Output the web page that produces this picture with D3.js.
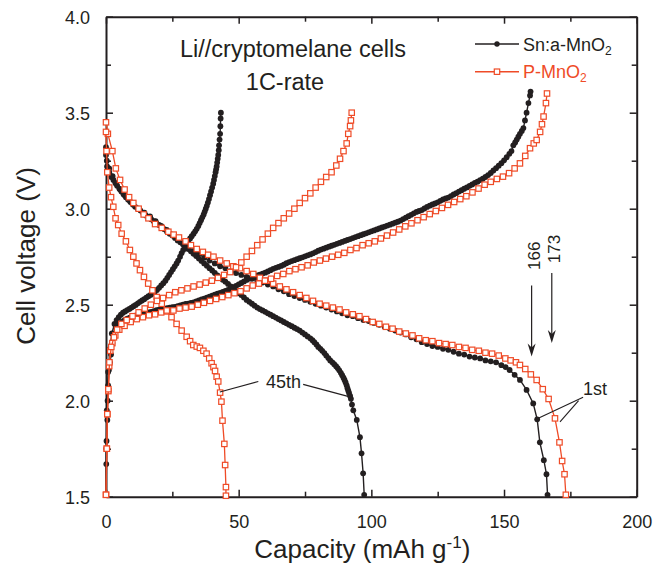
<!DOCTYPE html>
<html>
<head>
<meta charset="utf-8">
<script src="https://cdn.jsdelivr.net/npm/d3@7/dist/d3.min.js"></script>
<style>
  html, body { margin: 0; padding: 0; background: #fff; }
  svg text { font-family: "Liberation Sans", Arial, Helvetica, sans-serif; fill: #231f20; }
</style>
</head>
<body>
<svg id="chart" width="653" height="566"></svg>
<script>
// Tick values (every 25 mAh/g and every 0.25 V; labels on the major ones)
const xTickValues = [0, 25, 50, 75, 100, 125, 150, 175, 200];
const xTickLabels = [0, 50, 100, 150, 200];
const yTickValues = [1.5, 1.75, 2.0, 2.25, 2.5, 2.75, 3.0, 3.25, 3.5, 3.75, 4.0];
const yTickLabels = [1.5, 2.0, 2.5, 3.0, 3.5, 4.0];

// Sn:a-MnO2, 1st cycle discharge  [capacity mAh/g, voltage V]
const snDischarge1 = [
  [0,3.32],[0.3,3.25],[1.2,3.21],[2.5,3.17],[3.8,3.13],[5.3,3.10],[7,3.07],[8.7,3.045],[10.3,3.02],
  [12.3,3.00],[14.5,2.98],[16.6,2.96],[18.7,2.935],[20.8,2.91],[22.9,2.89],[25,2.865],[27,2.845],
  [29,2.825],[31,2.80],[33,2.78],[35,2.765],[37,2.745],[39,2.73],[41,2.715],[43,2.70],[45,2.69],
  [47,2.675],[49,2.665],[51,2.655],[53,2.645],[55,2.635],[57,2.625],[59,2.615],[61,2.605],[63,2.595],
  [65,2.58],[67,2.57],[69,2.555],[71,2.545],[73,2.535],[75,2.525],[77,2.515],[79,2.505],[81,2.495],
  [83,2.485],[85,2.475],[87,2.465],[89,2.455],[91,2.445],[93,2.44],[95,2.43],[97,2.42],[99,2.415],
  [101,2.405],[103,2.395],[105,2.385],[107,2.375],[109,2.365],[111,2.355],[113,2.345],[115,2.33],
  [117,2.32],[119,2.305],[121,2.295],[123,2.285],[125,2.28],[127,2.27],[129,2.265],[131,2.255],
  [133,2.245],[135,2.24],[137,2.23],[139,2.225],[141,2.22],[143,2.21],[145,2.205],[147,2.20],
  [149,2.185],[150.6,2.175],[152.1,2.16],[154,2.135],[156,2.108],[158.5,2.056],[161,1.986],
  [162.5,1.903],[163.5,1.783],[165,1.69],[166,1.617],[166.4,1.51]
];

// Sn:a-MnO2, 1st cycle charge
const snCharge1 = [
  [0,1.51],[0.1,1.67],[0.2,1.79],[0.5,1.90],[0.6,2.0],[0.8,2.08],[1.1,2.16],[1.5,2.20],[1.9,2.24],
  [2.4,2.30],[3,2.35],[3.8,2.38],[5,2.40],[6,2.41],[7,2.42],[8,2.427],[9,2.433],[10,2.438],[11,2.443],
  [12,2.447],[13,2.451],[14,2.454],[15,2.457],[16,2.46],[17,2.463],[18,2.467],[19,2.471],[20,2.474],
  [21,2.477],[22,2.479],[23,2.482],[24,2.484],[25,2.487],[26,2.489],[27,2.492],[28,2.497],[29,2.50],
  [30,2.504],[31,2.506],[32,2.509],[33,2.512],[34,2.517],[35,2.522],[36,2.527],[37,2.532],[38,2.537],
  [39,2.542],[40,2.547],[41,2.552],[42,2.557],[43,2.562],[44,2.567],[45,2.572],[46,2.577],[47,2.583],
  [48,2.591],[49,2.598],[50,2.606],[51,2.613],[52,2.621],[53,2.629],[54,2.636],[55,2.643],[56,2.648],
  [57,2.652],[58,2.657],[59,2.662],[60,2.667],[61,2.673],[62,2.68],[63,2.687],[64,2.692],[65,2.697],
  [66,2.702],[67,2.708],[68,2.716],[69,2.722],[70,2.727],[71,2.732],[72,2.737],[73,2.742],[74,2.747],
  [75,2.752],[76,2.757],[77,2.762],[78,2.767],[79,2.774],[80,2.781],[81,2.787],[82,2.792],[83,2.797],
  [84,2.802],[85,2.807],[86,2.812],[87,2.817],[88,2.822],[89,2.827],[90,2.832],[91,2.837],[92,2.842],
  [93,2.847],[94,2.852],[95,2.857],[96,2.862],[97,2.867],[98,2.872],[99,2.877],[100,2.882],[101,2.887],
  [102,2.892],[103,2.897],[104,2.902],[105,2.907],[106,2.912],[107,2.917],[108,2.922],[109,2.927],
  [110,2.932],[111,2.938],[112,2.946],[113,2.953],[114,2.961],[115,2.968],[116,2.976],[117,2.983],
  [118,2.988],[119,2.993],[120,3.001],[121,3.009],[122,3.016],[123,3.022],[124,3.027],[125,3.033],
  [126,3.041],[127,3.048],[128,3.053],[129,3.058],[130,3.066],[131,3.074],[132,3.081],[133,3.089],
  [134,3.096],[135,3.104],[136,3.111],[137,3.119],[138,3.126],[139,3.134],[140,3.141],[141,3.149],
  [142,3.156],[143,3.165],[144,3.175],[145,3.186],[146,3.199],[147,3.211],[148,3.224],[149,3.237],
  [150,3.252],[151,3.268],[152,3.286],[152.8,3.30],[153.5,3.33],[154.2,3.345],[154.8,3.36],
  [155.4,3.375],[156,3.39],[156.7,3.405],[157.3,3.42],[157.9,3.46],[158.5,3.50],[159.2,3.55],
  [159.8,3.59],[160,3.61]
];

// Sn:a-MnO2, 45th cycle discharge
const snDischarge45 = [
  [0,3.28],[0.4,3.22],[1.2,3.19],[2,3.165],[2.8,3.15],[3.5,3.135],[4.2,3.12],[5,3.105],[5.8,3.09],
  [6.6,3.075],[7.5,3.06],[8.3,3.048],[9.2,3.035],[10,3.024],[11,3.01],[12,3.00],[13,2.99],[14,2.978],
  [15,2.965],[16,2.955],[17,2.945],[18,2.935],[19,2.925],[20,2.915],[21,2.905],[22,2.893],[23,2.88],
  [24,2.87],[25,2.86],[26,2.848],[27,2.835],[28,2.825],[29,2.815],[30,2.803],[31,2.79],[32,2.778],
  [33,2.765],[34,2.753],[35,2.74],[36,2.728],[37,2.715],[38,2.703],[39,2.69],[40,2.678],[41,2.665],
  [42,2.652],[43,2.64],[44,2.63],[45,2.62],[46,2.608],[47,2.595],[48,2.583],[49,2.57],[50,2.56],
  [51,2.55],[52,2.538],[53,2.525],[54,2.515],[55,2.505],[56,2.495],[57,2.485],[58,2.477],[59,2.47],
  [60,2.463],[61,2.455],[62,2.448],[63,2.44],[64,2.433],[65,2.425],[66,2.418],[67,2.41],[68,2.403],
  [69,2.395],[70,2.388],[71,2.38],[72,2.373],[73,2.365],[74,2.355],[75,2.345],[76,2.335],[77,2.325],
  [77.8,2.315],[78.5,2.305],[79.3,2.293],[80,2.28],[80.8,2.27],[81.5,2.26],[82.3,2.248],[83,2.235],
  [83.8,2.222],[84.5,2.21],[85.3,2.20],[86,2.19],[86.7,2.18],[87.3,2.17],[87.9,2.158],[88.5,2.145],
  [89,2.133],[89.5,2.12],[89.9,2.108],[90.3,2.095],[90.7,2.08],[91,2.065],[91.3,2.052],[91.6,2.04],
  [92,2.025],[92.3,2.01],[92.7,1.98],[93.2,1.95],[94.5,1.90],[95.7,1.81],[96.3,1.726],[96.9,1.622],
  [97.3,1.51]
];

// Sn:a-MnO2, 45th cycle charge
const snCharge45 = [
  [0,1.51],[0.1,1.75],[0.3,1.95],[0.8,2.15],[1.5,2.27],[2.2,2.35],[3.2,2.40],[4,2.42],[4.8,2.435],
  [5.6,2.448],[6.4,2.458],[7.2,2.465],[8,2.472],[8.8,2.478],[9.6,2.485],[10.4,2.492],[11.2,2.499],
  [12,2.507],[12.8,2.515],[13.6,2.522],[14.4,2.529],[15.2,2.537],[16,2.544],[16.8,2.551],[17.6,2.558],
  [18.4,2.567],[19.2,2.577],[20,2.588],[20.8,2.60],[21.6,2.612],[22.4,2.625],[23.1,2.64],[23.8,2.655],
  [24.5,2.67],[25.2,2.685],[25.9,2.70],[26.6,2.715],[27.2,2.73],[27.9,2.75],[28.5,2.768],[29.1,2.785],
  [29.7,2.802],[30.4,2.82],[31,2.832],[31.7,2.845],[32.3,2.857],[33,2.87],[33.6,2.882],[34.2,2.895],
  [34.8,2.91],[35.3,2.925],[35.8,2.94],[36.3,2.955],[36.8,2.97],[37.2,2.985],[37.6,3.00],[38,3.015],
  [38.4,3.032],[38.8,3.05],[39.2,3.07],[39.6,3.09],[40,3.11],[40.4,3.13],[40.7,3.15],[41,3.17],
  [41.3,3.19],[41.5,3.205],[41.7,3.22],[41.9,3.24],[42.1,3.26],[42.3,3.28],[42.5,3.305],[42.6,3.33],
  [42.8,3.36],[43,3.39],[43.1,3.43],[43.2,3.47],[43.3,3.50]
];

// P-MnO2, 1st cycle discharge
const pDischarge1 = [
  [0,3.45],[0.7,3.39],[2.4,3.30],[3.7,3.21],[5.3,3.15],[7,3.10],[8.7,3.06],[10.3,3.03],[12.3,3.00],
  [14.2,2.97],[16,2.95],[18.5,2.92],[21,2.90],[23.5,2.88],[25.5,2.865],[27.5,2.85],[30,2.83],[32,2.81],
  [34.2,2.79],[36.5,2.775],[38.5,2.76],[40.5,2.75],[43,2.73],[45.5,2.715],[48,2.70],[50.5,2.69],
  [53,2.675],[55.5,2.66],[58,2.64],[60.5,2.625],[63,2.61],[65.5,2.595],[68,2.58],[70.5,2.565],
  [73,2.55],[75.5,2.535],[78,2.52],[80.5,2.505],[83,2.495],[85.5,2.485],[88,2.475],[90.5,2.46],
  [93,2.45],[95.5,2.44],[98,2.425],[100.5,2.41],[103,2.40],[105.5,2.385],[108,2.375],[110.5,2.36],
  [113,2.35],[115.5,2.34],[118,2.325],[120.5,2.315],[123,2.31],[125.5,2.30],[128,2.295],[130.5,2.29],
  [133,2.28],[135.5,2.275],[138,2.265],[140.5,2.26],[143,2.25],[145.5,2.245],[148,2.235],[150.5,2.22],
  [152.5,2.21],[154.5,2.20],[156,2.186],[158,2.165],[160.1,2.137],[162.3,2.108],[164.6,2.06],
  [166.8,2.009],[169.2,1.908],[170.9,1.783],[171.9,1.686],[172.8,1.617],[173.3,1.51]
];

// P-MnO2, 1st cycle charge
const pCharge1 = [
  [0,1.51],[0.3,1.75],[0.5,1.93],[0.9,2.05],[1.2,2.18],[1.6,2.26],[2.4,2.30],[3.5,2.34],[5,2.37],
  [7,2.39],[9.3,2.41],[11.6,2.425],[13.9,2.435],[16.2,2.445],[18.5,2.45],[20.8,2.46],[23.1,2.465],
  [25.4,2.47],[27.7,2.48],[30,2.485],[32.3,2.49],[34.6,2.50],[36.9,2.51],[39.2,2.52],[41.5,2.53],
  [43.8,2.54],[46.1,2.55],[48.4,2.56],[50.7,2.57],[53,2.585],[55.3,2.60],[57.6,2.61],[59.9,2.625],
  [62.2,2.635],[64.5,2.65],[66.8,2.66],[69.1,2.675],[71.4,2.685],[73.7,2.695],[76,2.705],[78.3,2.72],
  [80.6,2.73],[82.9,2.74],[85.2,2.75],[87.5,2.76],[89.8,2.77],[92.1,2.785],[94.4,2.795],[96.7,2.81],
  [99,2.82],[101.3,2.83],[103.6,2.845],[105.9,2.86],[108.2,2.876],[110.5,2.892],[112.8,2.908],
  [115.1,2.924],[117.4,2.94],[119.7,2.956],[122,2.972],[124.3,2.988],[126.6,3.004],[128.9,3.02],
  [131.2,3.035],[133.5,3.05],[135.8,3.065],[138.1,3.085],[140.4,3.105],[142.7,3.125],[145,3.14],
  [147.3,3.155],[149.6,3.167],[151.9,3.185],[154,3.21],[156,3.236],[158,3.275],[159.8,3.315],
  [161.2,3.34],[162.3,3.358],[163.6,3.40],[164.3,3.44],[164.9,3.48],[165.8,3.55],[166.2,3.60]
];

// P-MnO2, 45th cycle discharge
const pDischarge45 = [
  [0,3.40],[0.2,3.30],[0.5,3.19],[1.2,3.11],[1.9,3.06],[2.75,3.01],[3.6,2.95],[4.6,2.915],[5.9,2.87],
  [7.5,2.83],[9.0,2.785],[10.3,2.75],[11.5,2.715],[12.8,2.68],[14.3,2.645],[15.9,2.61],[17.5,2.575],
  [19.1,2.54],[21,2.505],[22.9,2.47],[24.7,2.435],[26.6,2.40],[28.5,2.365],[30.4,2.333],[31.7,2.31],
  [32.9,2.29],[34.2,2.282],[35.4,2.275],[36.7,2.26],[37.9,2.245],[38.9,2.22],[39.8,2.195],
  [40.5,2.175],[41.1,2.155],[41.7,2.125],[42.3,2.10],[43,2.042],[43.5,1.995],[43.9,1.896],
  [44.6,1.775],[44.9,1.665],[45.2,1.55],[45.2,1.505]
];

// P-MnO2, 45th cycle charge
const pCharge45 = [
  [0,1.51],[0.3,1.75],[0.5,1.93],[0.9,2.06],[1.3,2.2],[2,2.28],[3,2.33],[4.2,2.37],[5.8,2.40],
  [7.8,2.42],[10,2.44],[12.3,2.46],[14.6,2.48],[16.9,2.50],[19.2,2.52],[21.5,2.535],[23.8,2.55],
  [26.1,2.565],[28.4,2.575],[30.7,2.585],[33,2.595],[35.3,2.605],[37.6,2.615],[39.9,2.625],
  [42.2,2.64],[44.5,2.655],[46.8,2.67],[49,2.695],[51,2.72],[53,2.75],[55,2.78],[57,2.81],[59,2.84],
  [61,2.87],[63,2.90],[65,2.925],[67,2.95],[69,2.975],[71,3.00],[73,3.03],[75,3.055],[77,3.08],
  [79,3.11],[81,3.14],[83,3.165],[85,3.19],[86.8,3.225],[88.2,3.26],[89.5,3.30],[90.7,3.34],
  [91.3,3.39],[92,3.43],[92.3,3.46],[92.6,3.50]
];

const ink = "#231f20";
const red = "#ef4b27";

const svg = d3.select("#chart");
const plotLeft = 106, plotRight = 636.7, plotTop = 16.7, plotBottom = 496.7;

const x = d3.scaleLinear().domain([0, 200]).range([plotLeft, plotRight]);
const y = d3.scaleLinear().domain([1.5, 4.0]).range([plotBottom, plotTop]);

// ---- axes (all ticks point into the plot) ----
const isMajorX = v => v % 50 === 0;
const isMajorY = v => Math.abs(v * 2 - Math.round(v * 2)) < 1e-9;
const majorLen = 7, minorLen = 5;

function styleAxis(g, majorTest, sign, horizontal) {
  g.select(".domain").attr("stroke", ink).attr("stroke-width", 2);
  g.selectAll(".tick line")
    .attr("stroke", ink).attr("stroke-width", 1.5)
    .each(function(d) {
      const len = (majorTest(d) ? majorLen : minorLen) * sign;
      d3.select(this).attr(horizontal ? "y2" : "x2", len);
    });
  g.selectAll(".tick text").attr("fill", ink).style("font-size", "18px");
}

const fmtX = v => xTickLabels.includes(v) ? String(v) : "";
const fmtY = v => yTickLabels.some(t => Math.abs(t - v) < 1e-9) ? d3.format(".1f")(v) : "";

svg.append("g").attr("transform", `translate(0,${plotBottom})`)
  .call(d3.axisBottom(x).tickValues(xTickValues).tickFormat(fmtX).tickSize(-majorLen).tickSizeOuter(0).tickPadding(19))
  .call(g => styleAxis(g, isMajorX, -1, true));

svg.append("g").attr("transform", `translate(0,${plotTop})`)
  .call(d3.axisTop(x).tickValues(xTickValues).tickFormat("").tickSize(-majorLen).tickSizeOuter(0))
  .call(g => styleAxis(g, isMajorX, 1, true));

svg.append("g").attr("transform", `translate(${plotLeft},0)`)
  .call(d3.axisLeft(y).tickValues(yTickValues).tickFormat(fmtY).tickSize(-majorLen).tickSizeOuter(0).tickPadding(16))
  .call(g => styleAxis(g, isMajorY, 1, false))
  .call(g => g.selectAll(".tick text").attr("dy", "0.39em"));

svg.append("g").attr("transform", `translate(${plotRight},0)`)
  .call(d3.axisRight(y).tickValues(yTickValues).tickFormat("").tickSize(-majorLen).tickSizeOuter(0))
  .call(g => styleAxis(g, isMajorY, -1, false));

// ---- axis titles ----
svg.append("text")
  .attr("x", (plotLeft + plotRight) / 2 - 9).attr("y", 558)
  .attr("text-anchor", "middle").style("font-size", "26px")
  .call(t => {
    t.append("tspan").text("Capacity (mAh g");
    t.append("tspan").attr("dy", -10).style("font-size", "17px").text("-1");
    t.append("tspan").attr("dy", 10).text(")");
  });

svg.append("text")
  .attr("transform", `translate(35,256) rotate(-90)`)
  .attr("text-anchor", "middle").style("font-size", "26px")
  .text("Cell voltage (V)");

// ---- curves ----
const line = d3.line().x(d => x(d[0])).y(d => y(d[1]));
const blackSeries = [snDischarge1, snCharge1, snDischarge45, snCharge45];
const redSeries = [pDischarge1, pCharge1, pDischarge45, pCharge45];
const plot = svg.append("g");

const dotR = 2.9;
blackSeries.forEach(s => {
  plot.append("path").datum(s).attr("d", line)
    .attr("fill", "none").attr("stroke", ink).attr("stroke-width", 1.4);
  plot.append("g").selectAll("circle").data(s).join("circle")
    .attr("cx", d => x(d[0])).attr("cy", d => y(d[1])).attr("r", dotR)
    .attr("fill", ink);
});

const sq = 5.4;
redSeries.forEach(s => {
  plot.append("path").datum(s).attr("d", line)
    .attr("fill", "none").attr("stroke", red).attr("stroke-width", 1.3);
  plot.append("g").selectAll("rect").data(s).join("rect")
    .attr("x", d => x(d[0]) - sq / 2).attr("y", d => y(d[1]) - sq / 2)
    .attr("width", sq).attr("height", sq)
    .attr("fill", "#fff").attr("stroke", red).attr("stroke-width", 1.2);
});

// ---- title text ----
svg.append("text").attr("x", 293).attr("y", 57)
  .attr("text-anchor", "middle").style("font-size", "23.5px")
  .text("Li//cryptomelane cells");
svg.append("text").attr("x", 285).attr("y", 90)
  .attr("text-anchor", "middle").style("font-size", "23.5px")
  .text("1C-rate");

// ---- legend ----
const legend = svg.append("g");
const lgX0 = 475, lgX1 = 519, lgText = 523;
[[44, ink, "Sn:a-MnO", "circle"], [71.7, red, "P-MnO", "rect"]].forEach(([ly, col, label, shape]) => {
  legend.append("line").attr("x1", lgX0).attr("x2", lgX1).attr("y1", ly).attr("y2", ly)
    .attr("stroke", col).attr("stroke-width", 1.5);
  const mx = (lgX0 + lgX1) / 2;
  if (shape === "circle") {
    legend.append("circle").attr("cx", mx).attr("cy", ly).attr("r", 2.7).attr("fill", col);
  } else {
    legend.append("rect").attr("x", mx - sq / 2).attr("y", ly - sq / 2).attr("width", sq).attr("height", sq)
      .attr("fill", "#fff").attr("stroke", col).attr("stroke-width", 1.2);
  }
  const t = legend.append("text").attr("x", lgText).attr("y", ly + 6.5)
    .style("font-size", "18px").style("fill", col);
  t.append("tspan").text(label);
  t.append("tspan").attr("dy", 4).style("font-size", "12px").text("2");
});

// ---- annotations ----
const ann = svg.append("g");
const leader = (c1, v1, c2, v2) => ann.append("line")
  .attr("x1", x(c1)).attr("y1", y(v1)).attr("x2", x(c2)).attr("y2", y(v2))
  .attr("stroke", ink).attr("stroke-width", 1.1);

// "45th" pointing at both 45th-cycle discharge curves
ann.append("text").attr("x", x(60.3)).attr("y", y(2.066)).attr("text-anchor", "start")
  .style("font-size", "18px").text("45th");
leader(57.4, 2.10, 42.9, 2.045);
leader(74.3, 2.085, 91.9, 2.02);

// "1st" pointing at both 1st-cycle discharge curves
ann.append("text").attr("x", x(179.8)).attr("y", y(2.03)).attr("text-anchor", "start")
  .style("font-size", "18px").text("1st");
leader(179.8, 2.018, 162.9, 1.908);
leader(178.1, 2.0, 171.1, 1.89);

// capacity arrows
function arrow(cap, vFrom, vTo, label, labelV) {
  const ax = x(cap), y0 = y(vFrom), y1 = y(vTo);
  ann.append("line").attr("x1", ax).attr("x2", ax).attr("y1", y0).attr("y2", y1 - 8)
    .attr("stroke", ink).attr("stroke-width", 1.2);
  ann.append("path")
    .attr("d", `M${ax},${y1} L${ax - 4},${y1 - 13} L${ax},${y1 - 9} L${ax + 4},${y1 - 13} Z`)
    .attr("fill", ink);
  ann.append("text")
    .attr("transform", `translate(${ax + 8},${y(labelV)}) rotate(-90)`)
    .attr("text-anchor", "middle").style("font-size", "17px").text(label);
}
arrow(160.4, 2.60, 2.23, "166", 2.755);
arrow(168.0, 2.665, 2.30, "173", 2.79);
</script>
</body>
</html>
